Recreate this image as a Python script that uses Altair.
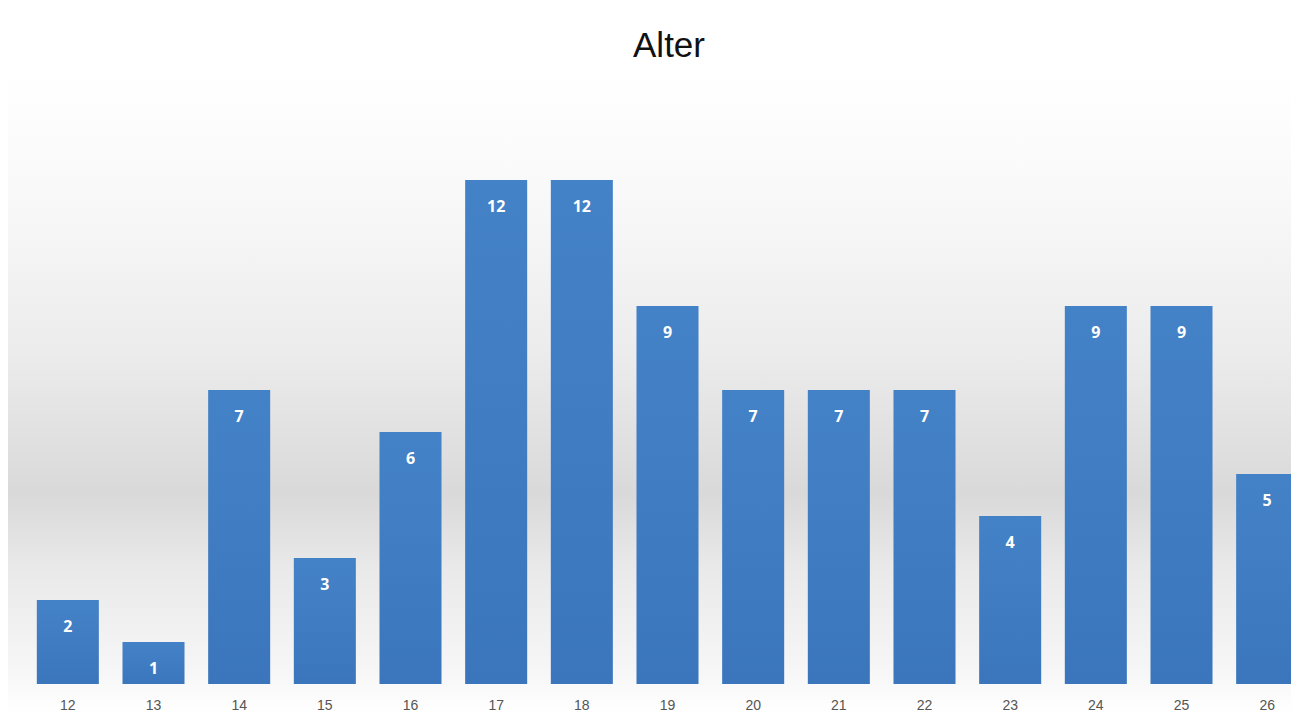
import altair as alt
import pandas as pd

# Data
ages = ["12", "13", "14", "15", "16", "17", "18", "19", "20", "21", "22", "23", "24", "25", "26"]
counts = [2, 1, 7, 3, 6, 12, 12, 9, 7, 7, 7, 4, 9, 9, 5]
chart_title = "Alter"

df = pd.DataFrame({"Alter": ages, "Anzahl": counts})

W = 1266
H = 588
PAD_L, PAD_T, PAD_R, PAD_B = 17, 88, 0, 30

bg_gradient = alt.LinearGradient(
    gradient="linear",
    stops=[
        alt.GradientStop(color="#ffffff", offset=0.0),
        alt.GradientStop(color="#f8f8f8", offset=0.2),
        alt.GradientStop(color="#ececec", offset=0.43),
        alt.GradientStop(color="#d9d9d9", offset=0.655),
        alt.GradientStop(color="#e9e9e9", offset=0.77),
        alt.GradientStop(color="#f6f6f6", offset=0.93),
        alt.GradientStop(color="#ffffff", offset=1.0),
    ],
    x1=0, x2=0, y1=0, y2=1,
)

bar_gradient = alt.LinearGradient(
    gradient="linear",
    stops=[
        alt.GradientStop(color="#4482c7", offset=0.0),
        alt.GradientStop(color="#3b76bc", offset=1.0),
    ],
    x1=0, x2=0, y1=0, y2=1,
)

bg = alt.Chart(pd.DataFrame({"k": [0]})).mark_rect(color=bg_gradient).encode(
    x=alt.value(-PAD_L), x2=alt.value(W), y=alt.value(-20), y2=alt.value(H + PAD_B)
)

x_enc = alt.X(
    "Alter:N",
    sort=ages,
    scale=alt.Scale(range=[0, 1285], paddingInner=0.276, paddingOuter=0.138),
    axis=alt.Axis(
        title=None, labelAngle=0, ticks=False, tickSize=0, domain=False,
        labelPadding=14, labelColor="#555555", labelFontSize=14,
        labelFont="Liberation Sans", grid=False, zindex=1,
    ),
)
y_enc = alt.Y("Anzahl:Q", scale=alt.Scale(domain=[0, 14]), axis=None)

bars = alt.Chart(df).mark_bar(color=bar_gradient).encode(x=x_enc, y=y_enc)

labels = alt.Chart(df).mark_text(
    color="white", fontWeight="bold", fontSize=16, baseline="middle", dy=27, font="Open Sans"
).encode(x=x_enc, y=y_enc, text="Anzahl:Q")

chart = alt.layer(bg, bars, labels).properties(
    width=W,
    height=H,
    title=alt.TitleParams(
        text=chart_title, fontSize=35, font="Liberation Sans", fontWeight="normal",
        color="#111111", offset=12, anchor="middle", dx=11,
    ),
    autosize=alt.AutoSizeParams(type="none"),
    padding={"left": PAD_L, "top": PAD_T, "right": PAD_R, "bottom": PAD_B},
).configure_view(stroke=None)

chart.save("out.html", embed_options={"renderer": "svg", "actions": False})
